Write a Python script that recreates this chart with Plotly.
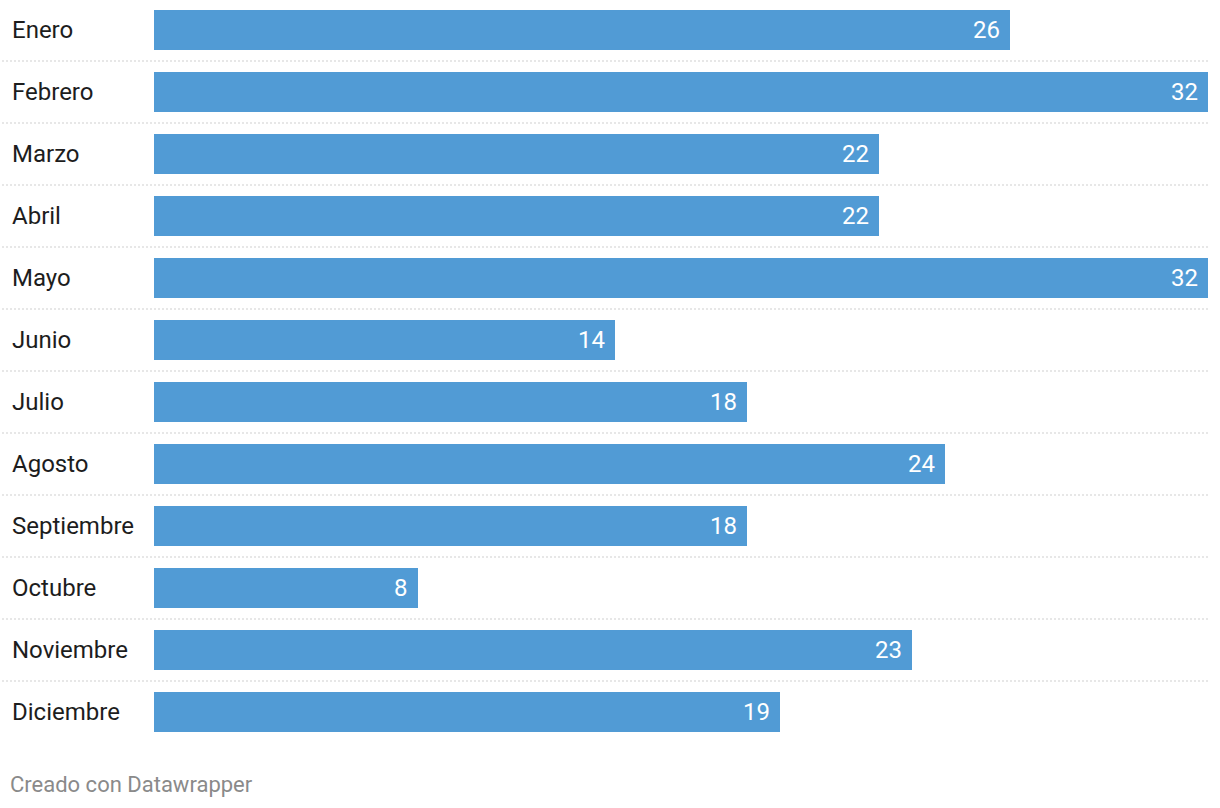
import plotly.graph_objects as go

months = ["Enero", "Febrero", "Marzo", "Abril", "Mayo", "Junio", "Julio",
          "Agosto", "Septiembre", "Octubre", "Noviembre", "Diciembre"]
values = [26, 32, 22, 22, 32, 14, 18, 24, 18, 8, 23, 19]

W, H = 1220, 808
PLOT_H = 744
BAR_COLOR = "#519bd5"
FONT = "Roboto"

idx = list(range(len(months)))

fig = go.Figure()
fig.add_trace(go.Bar(
    x=values, y=idx, orientation="h",
    marker=dict(color=BAR_COLOR, line=dict(width=0)),
    width=40 / 62, hoverinfo="skip",
))

annotations = []
for i, (m, v) in enumerate(zip(months, values)):
    annotations.append(dict(
        x=12 / W, xref="paper", y=i, yref="y", text=m, showarrow=False,
        xanchor="left", yanchor="middle", xshift=-2,
        font=dict(family=FONT, size=24, color="#1d1d1d"),
    ))
    annotations.append(dict(
        x=v, xref="x", y=i, yref="y", text=str(v), showarrow=False,
        xanchor="right", yanchor="middle", xshift=-8,
        font=dict(family=FONT, size=24, color="#ffffff"),
    ))
annotations.append(dict(
    x=10 / W, xref="paper", y=(PLOT_H - 784) / PLOT_H, yref="paper",
    text="Creado con Datawrapper", showarrow=False,
    xanchor="left", yanchor="middle", xshift=-2,
    font=dict(family=FONT, size=22, color="#8a8a8a"),
))

shapes = []
for i in range(len(months) - 1):
    shapes.append(dict(
        type="line", xref="paper", yref="y",
        x0=2 / W, x1=1208 / W, y0=i + 0.5, y1=i + 0.5,
        line=dict(color="#cfcfcf", width=1.2, dash="2px,2px"),
    ))

off = 1 / 62
fig.update_layout(
    width=W, height=H, autosize=False,
    margin=dict(l=0, r=0, t=0, b=H - PLOT_H, pad=0),
    paper_bgcolor="white", plot_bgcolor="white",
    showlegend=False,
    xaxis=dict(domain=[154 / W, 1208 / W], range=[0, 32], visible=False,
               fixedrange=True),
    yaxis=dict(range=[len(months) - 0.5 + off, -0.5 + off], visible=False,
               fixedrange=True),
    annotations=annotations, shapes=shapes,
    bargap=0,
)

fig.write_html("out.html", config={"displayModeBar": False},
               post_script="document.body.style.margin='0';document.body.style.overflow='hidden';")
